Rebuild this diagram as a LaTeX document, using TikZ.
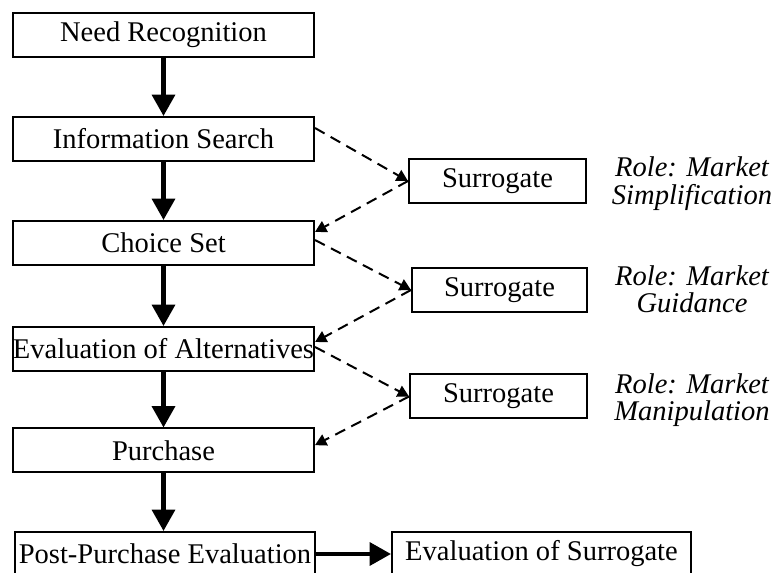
\documentclass[tikz,border=0pt]{standalone}
\usepackage{fontspec}
\setmainfont{Liberation Serif}
\usetikzlibrary{arrows.meta}
\begin{document}
\begin{tikzpicture}[x=0.75pt,y=-0.75pt,
  stage/.style={draw,line width=1.5pt,minimum height=33pt,inner sep=0pt,
    font=\fontsize{21.4}{25}\selectfont},
  mainbox/.style={stage,minimum width=225.75pt},
  surr/.style={stage,minimum width=132.75pt},
  role/.style={align=center,inner sep=0pt,
    font=\fontsize{21.4}{20.5}\selectfont\itshape},
  flow/.style={line width=3.2pt,-{Triangle[length=16pt,width=17pt]}},
  link/.style={line width=1.5pt,dash pattern=on 8.25pt off 5.25pt,
    -{Triangle[length=8.5pt,width=9pt]}}]
\useasboundingbox (0,0) rectangle (775,573);
\clip (0,0) rectangle (775,573);

% consumer decision stages
\node[mainbox] (need)   at (163.5,35)    {Need Recognition};
\node[mainbox] (info)   at (163.5,139)   {Information Search};
\node[mainbox] (choice) at (163.5,243)   {Choice Set};
\node[mainbox] (eval)   at (163.5,349)   {Evaluation of Alternatives};
\node[mainbox] (buy)    at (163.5,450.5) {Purchase};
\node[stage,minimum width=225pt] (post) at (165,554) {Post-Purchase Evaluation};
\node[stage,minimum width=224.25pt] (evsur) at (541.5,554) {Evaluation of Surrogate};

% surrogates and their roles
\node[surr] (s1) at (497.5,181)   {Surrogate};
\node[surr,minimum width=131.25pt] (s2) at (499.5,290) {Surrogate};
\node[surr] (s3) at (498.5,396.5) {Surrogate};
\node[role] (r1) at (692,183.5) {Role: Market\\Simplification};
\node[role] (r2) at (692,289)   {Role: Market\\Guidance};
\node[role] (r3) at (692,400)   {Role: Market\\Manipulation};

% main flow
\draw[flow] (need) -- (info);
\draw[flow] (info) -- (choice);
\draw[flow] (choice) -- (eval);
\draw[flow] (eval) -- (buy);
\draw[flow] (buy.south) -- (buy.south |- post.north);
\draw[flow] (post) -- (evsur);

% surrogate influences
\draw[link] ([yshift=8.25pt]info.east) -- (s1.west);
\draw[link] (s1.west) -- ([yshift=8.25pt]choice.east);
\draw[link] ([yshift=2.25pt]choice.east) -- (s2.west);
\draw[link] (s2.west) -- ([yshift=5.25pt]eval.east);
\draw[link] ([yshift=1.5pt]eval.east) -- (s3.west);
\draw[link] (s3.west) -- ([yshift=4pt]buy.east);
\end{tikzpicture}
\end{document}
